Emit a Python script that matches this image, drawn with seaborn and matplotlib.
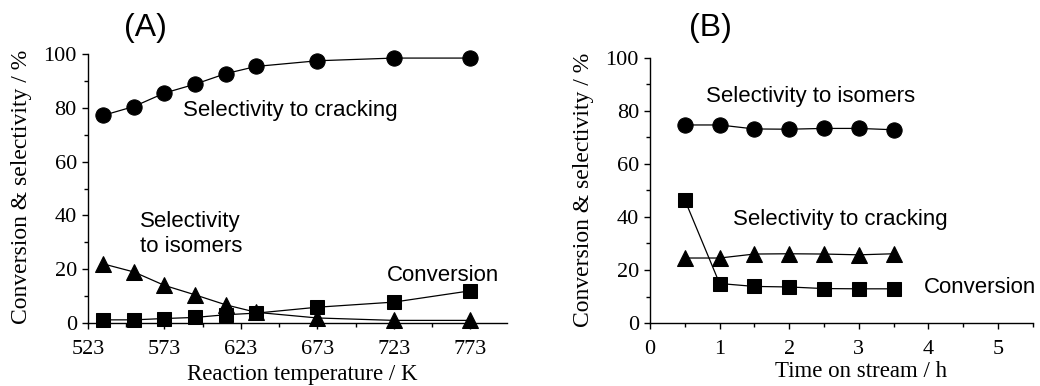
import matplotlib
matplotlib.use("Agg")
import matplotlib.pyplot as plt
import seaborn as sns
import pandas as pd
from matplotlib.ticker import MultipleLocator

# ---- data ----
temp_K = [533, 553, 573, 593, 613, 633, 673, 723, 773]
a_cracking = [77.2, 80.5, 85.5, 88.8, 92.7, 95.4, 97.5, 98.5, 98.5]
a_isomers = [22.0, 19.0, 14.0, 10.5, 6.8, 4.0, 1.9, 1.0, 1.0]
a_conversion = [1.2, 1.2, 1.7, 2.1, 3.1, 3.7, 5.9, 7.8, 12.0]

time_h = [0.5, 1.0, 1.5, 2.0, 2.5, 3.0, 3.5]
b_isomers = [74.6, 74.6, 73.1, 73.0, 73.3, 73.3, 72.8]
b_cracking = [24.5, 24.5, 26.0, 26.1, 26.0, 25.7, 26.1]
b_conversion = [46.4, 14.9, 13.8, 13.6, 13.0, 12.9, 12.9]

y_label = "Conversion & selectivity / %"
xlabel_a = "Reaction temperature / K"
xlabel_b = "Time on stream / h"

sns.set_theme(style="ticks")
serif = ["Liberation Serif", "DejaVu Serif"]
sans = ["Liberation Sans", "DejaVu Sans"]
plt.rcParams["font.family"] = serif

fig = plt.figure(figsize=(10.4, 3.86), dpi=100)
axA = fig.add_axes([0.0846, 0.163, 0.403, 0.697])
axB = fig.add_axes([0.625, 0.163, 0.368, 0.688])

line_kw = dict(color="black", linewidth=0.9, markeredgecolor="black",
               markerfacecolor="black", legend=False, clip_on=False)

def draw(ax, x, ys_markers):
    for y, m, ms in ys_markers:
        df = pd.DataFrame({"x": x, "y": y})
        sns.lineplot(data=df, x="x", y="y", ax=ax, marker=m, markersize=ms,
                     **line_kw)

draw(axA, temp_K, [(a_cracking, "o", 11), (a_isomers, "^", 11),
                   (a_conversion, "s", 10.5)])
draw(axB, time_h, [(b_isomers, "o", 11), (b_cracking, "^", 11),
                   (b_conversion, "s", 10.5)])

for ax in (axA, axB):
    sns.despine(ax=ax)
    ax.set_ylim(0, 100)
    ax.yaxis.set_major_locator(MultipleLocator(20))
    ax.yaxis.set_minor_locator(MultipleLocator(10))
    ax.tick_params(axis="both", which="major", direction="out", length=4,
                   width=1, labelsize=16, color="black", labelcolor="black")
    ax.tick_params(axis="y", which="major", pad=4)
    ax.tick_params(axis="x", which="major", pad=8)
    ax.tick_params(axis="both", which="minor", direction="out", length=3,
                   width=1, color="black")
    for s in ("left", "bottom"):
        ax.spines[s].set_linewidth(1.0)
        ax.spines[s].set_color("black")
    ax.set_ylabel(y_label, fontsize=17, color="black")
    for lab in ax.get_xticklabels() + ax.get_yticklabels():
        lab.set_family(serif)

axA.set_xlim(523, 797)
axA.set_xticks([523, 573, 623, 673, 723, 773])
axA.set_xticks([548, 598, 648, 698, 748], minor=True)
axA.set_xlabel(xlabel_a, fontsize=16.5, color="black")
axA.xaxis.label.set_va("baseline")
axA.xaxis.set_label_coords(0.511, -0.210)
axA.yaxis.set_label_coords(-0.134, 0.506)

axB.set_xlim(0, 5.5)
axB.xaxis.set_major_locator(MultipleLocator(1))
axB.xaxis.set_minor_locator(MultipleLocator(0.5))
axB.set_xlabel(xlabel_b, fontsize=16.5, color="black")
axB.xaxis.label.set_va("baseline")
axB.xaxis.set_label_coords(0.552, -0.202)
axB.yaxis.set_label_coords(-0.146, 0.502)

txt = dict(family=sans, fontsize=16, color="black", va="center", ha="left")
axA.text(585, 79.2, "Selectivity to cracking", **txt)
axA.text(557, 33.0, "Selectivity\nto isomers", linespacing=1.25, **txt)
axA.text(718.6, 17.8, "Conversion", **txt)
axB.text(0.80, 85.3, "Selectivity to isomers", **txt)
axB.text(1.19, 38.9, "Selectivity to cracking", **txt)
axB.text(3.93, 13.3, "Conversion", **txt)

fig.text(145 / 1040, 1 - 28 / 386, "(A)", family=sans, fontsize=23,
         ha="center", va="center", color="black")
fig.text(710 / 1040, 1 - 28 / 386, "(B)", family=sans, fontsize=23,
         ha="center", va="center", color="black")

fig.savefig("out.png", dpi=100)
